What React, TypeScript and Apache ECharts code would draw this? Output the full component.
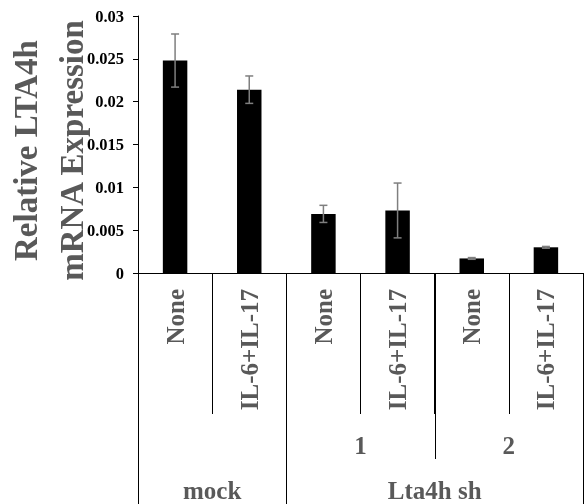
import React, { useEffect, useRef } from "react";
import * as echarts from "echarts";

const categories = ["None", "IL-6+IL-17", "None", "IL-6+IL-17", "None", "IL-6+IL-17"];
const values = [0.0248, 0.0214, 0.0069, 0.0073, 0.0017, 0.003];
const errors = [0.0031, 0.0016, 0.001, 0.0032, 0.0001, 0.0001];
const level2Groups = [
  { label: "", start: 0, end: 2 },
  { label: "1", start: 2, end: 4 },
  { label: "2", start: 4, end: 6 },
];
const level3Groups = [
  { label: "mock", start: 0, end: 2 },
  { label: "Lta4h sh", start: 2, end: 6 },
];
const yTickValues = [0, 0.005, 0.01, 0.015, 0.02, 0.025, 0.03];
const yTickLabels = ["0", "0.005", "0.01", "0.015", "0.02", "0.025", "0.03"];
const yTitle = "Relative LTA4h\nmRNA Expression";

const FONT = "'Liberation Serif', 'Times New Roman', serif";
const GRAY = "#595959";

export default function App() {
  const ref = useRef<HTMLDivElement>(null);
  useEffect(() => {
    if (!ref.current) return;
    const chart = echarts.init(ref.current, undefined, { renderer: "svg" });
    const option: any = {
      animation: false,
      grid: { left: 138, right: 5, top: 16, bottom: 231, containLabel: false },
      xAxis: {
        type: "category",
        data: categories,
        axisLine: { lineStyle: { color: "#000", width: 1 } },
        axisTick: { show: true, length: 141, lineStyle: { color: "#000", width: 1 } },
        axisLabel: {
          interval: 0,
          rotate: 90,
          margin: 16,
          fontSize: 25,
          fontWeight: "bold",
          fontFamily: FONT,
          color: GRAY,
        },
      },
      yAxis: {
        type: "value",
        min: 0,
        max: 0.03,
        interval: 0.005,
        splitLine: { show: false },
        axisLine: { show: true, lineStyle: { color: "#000", width: 1 } },
        axisTick: { show: true, length: 5, lineStyle: { color: "#000" } },
        axisLabel: {
          margin: 14,
          fontSize: 16.5,
          fontWeight: "bold",
          fontFamily: FONT,
          color: "#000",
          formatter: (v: number) => {
            const i = yTickValues.findIndex((t) => Math.abs(t - v) < 1e-9);
            return i >= 0 ? yTickLabels[i] : "";
          },
        },
      },
      series: [
        {
          type: "bar",
          data: values,
          barWidth: "33%",
          itemStyle: { color: "#000" },
        },
        {
          type: "custom",
          data: values.map((v, i) => [i, v, errors[i]]),
          encode: { x: 0, y: 1 },
          z: 10,
          renderItem: (params: any, api: any) => {
            const x = api.value(0);
            const v = api.value(1);
            const e = api.value(2);
            const top = api.coord([x, v + e]);
            const bot = api.coord([x, v - e]);
            const hw = 4;
            const style = { stroke: "#7f7f7f", lineWidth: 1.5 };
            return {
              type: "group",
              children: [
                { type: "line", shape: { x1: top[0], y1: top[1], x2: bot[0], y2: bot[1] }, style },
                { type: "line", shape: { x1: top[0] - hw, y1: top[1], x2: top[0] + hw, y2: top[1] }, style },
                { type: "line", shape: { x1: bot[0] - hw, y1: bot[1], x2: bot[0] + hw, y2: bot[1] }, style },
              ],
            };
          },
        },
      ],
    };
    chart.setOption(option);

    const c0 = chart.convertToPixel({ xAxisIndex: 0 }, 0) as number;
    const c1 = chart.convertToPixel({ xAxisIndex: 0 }, 1) as number;
    const band = c1 - c0;
    const left = c0 - band / 2;
    const y0 = chart.convertToPixel({ yAxisIndex: 0 }, 0) as number;
    const bx = (i: number) => left + i * band;
    const lvl2Bottom = y0 + 186;
    const lvl3Bottom = 504;
    const lineStyle = { stroke: "#000", lineWidth: 1 };
    const textStyle = (t: string, x: number, y: number) => ({
      type: "text",
      x,
      y,
      style: {
        text: t,
        fontSize: 25,
        fontWeight: "bold",
        fontFamily: FONT,
        fill: GRAY,
        align: "center",
        verticalAlign: "middle",
      },
    });
    const graphics: any[] = [];
    const l2b = new Set<number>();
    level2Groups.forEach((g) => {
      l2b.add(g.start);
      l2b.add(g.end);
      if (g.label) graphics.push(textStyle(g.label, (bx(g.start) + bx(g.end)) / 2, y0 + 172));
    });
    const l3b = new Set<number>();
    level3Groups.forEach((g) => {
      l3b.add(g.start);
      l3b.add(g.end);
      graphics.push(textStyle(g.label, (bx(g.start) + bx(g.end)) / 2, y0 + 217));
    });
    l2b.forEach((i) => {
      const x = Math.round(bx(i)) + 0.5;
      graphics.push({ type: "line", shape: { x1: x, y1: y0, x2: x, y2: l3b.has(i) ? lvl3Bottom : lvl2Bottom }, style: lineStyle });
    });
    graphics.push({
      type: "text",
      x: 49,
      y: (chart.convertToPixel({ yAxisIndex: 0 }, 0.015) as number) + 6,
      rotation: Math.PI / 2,
      style: {
        text: yTitle,
        fontSize: 33,
        lineHeight: 46,
        fontWeight: "bold",
        fontFamily: FONT,
        fill: GRAY,
        align: "center",
        verticalAlign: "middle",
      },
    });
    chart.setOption({ graphic: graphics });
    return () => chart.dispose();
  }, []);
  return <div ref={ref} style={{ position: "fixed", left: 0, top: 0, width: 588, height: 504 }} />;
}
